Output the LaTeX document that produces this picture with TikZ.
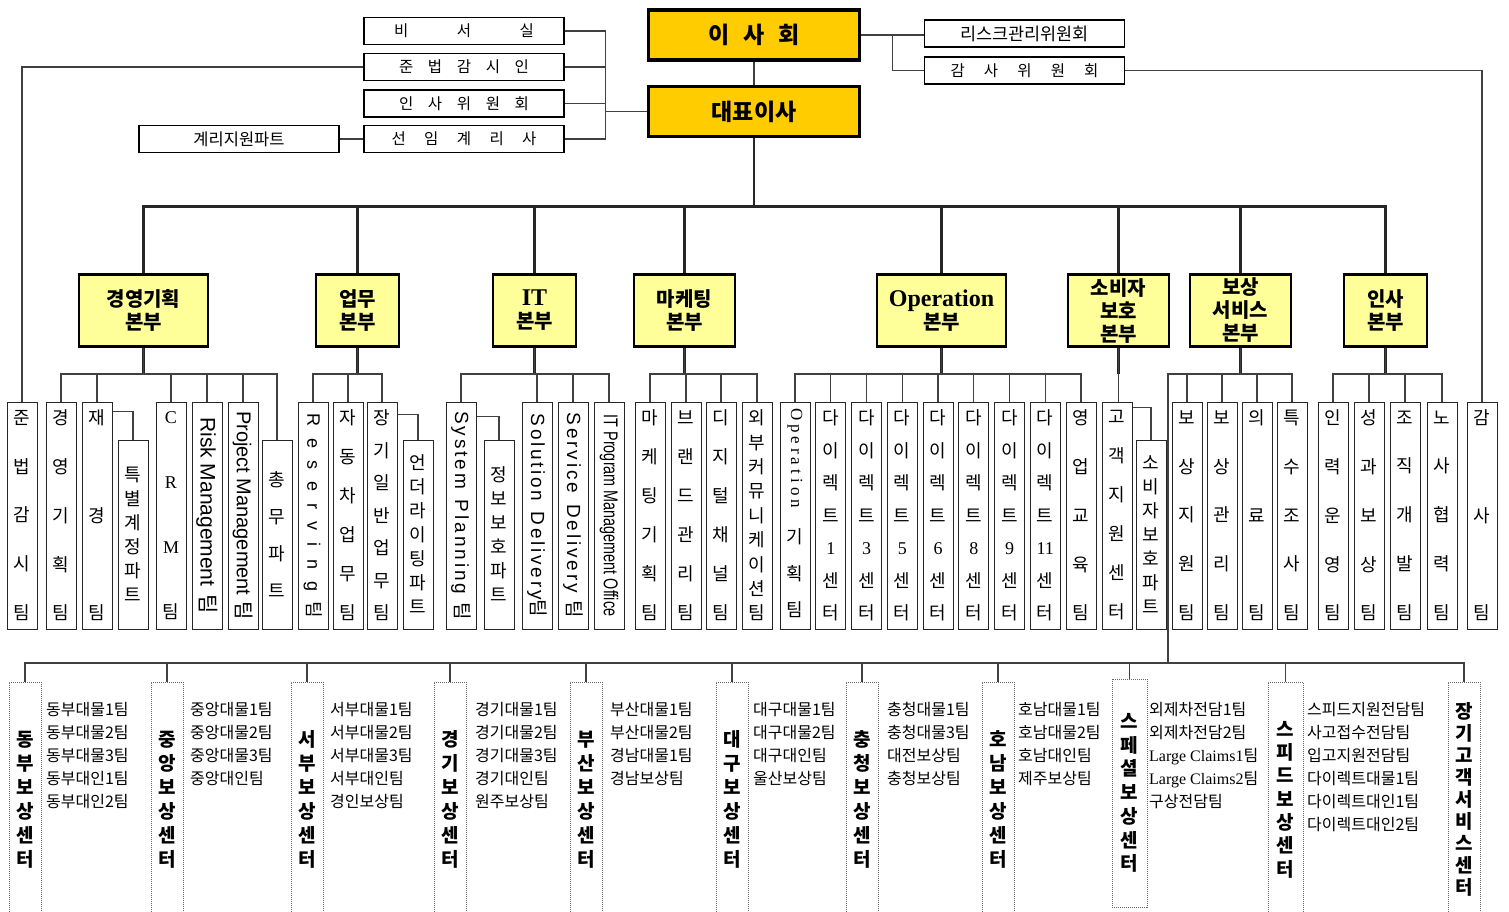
\documentclass[tikz,border=0pt]{standalone}
\usepackage{graphicx}
\usepackage{fontspec}
\setmainfont{Noto Sans CJK KR}
\newfontfamily\lat{Liberation Serif}
\newfontfamily\las{Liberation Sans}
\usepackage{tikz}
\definecolor{gold}{HTML}{FFCC00}
\definecolor{lemon}{HTML}{FFFF99}
\newcommand\spreadtxt[2]{\makebox[#1][s]{\spaceskip=0pt plus 1fil\relax #2}}

\begin{document}
\begin{tikzpicture}[x=1pt,y=-1pt,
  ln/.style={draw=black!75,line width=1.2pt},
  trunk/.style={draw=black!85,line width=2.4pt},
  head/.style={draw,line width=3.6pt,fill=gold,minimum width=211,minimum height=50,inner sep=0,font=\bfseries\fontsize{23}{23}\selectfont},
  sbox/.style={draw,line width=1.1pt,minimum width=200,minimum height=27,inner sep=0,font=\fontsize{15.5}{15.5}\selectfont},
  div/.style={draw,line width=2.8pt,fill=lemon,minimum height=72,inner sep=0,align=center,font=\bfseries\fontsize{20}{23}\selectfont},
  tbox/.style={draw=black!85,line width=1pt,minimum width=30,minimum height=227,inner sep=0,align=center},
  team/.style={tbox,font=\pgfmathsetmacro\tpitch{195/(#1-1)}\fontsize{18}{\tpitch}\selectfont},
  part/.style={tbox,minimum height=189,font=\fontsize{18}{#1}\selectfont},
  rtxt/.style={rotate=-90,inner sep=0,font=\fontsize{#1}{#1}\selectfont},
  ctr/.style={draw=black!60,line width=1pt,densely dotted,minimum width=32,minimum height=235,inner sep=0,align=center,font=\bfseries\fontsize{19}{#1}\selectfont},
  lst/.style={anchor=north west,inner sep=0,align=left,font=\fontsize{16}{23}\selectfont}]
\useasboundingbox (0,0) rectangle (1509,911);

\node[head] (ish) at (754,35) {\spreadtxt{92pt}{이 사 회}};
\node[head] (ceo) at (754,111.5) {대표이사};
\draw[ln] (ish) -- (ceo);

\foreach \nm/\y/\w/\tx in {s1/31/140/{비 서 실},s2/67/130/{준 법 감 시 인},%
  s3/103.5/130/{인 사 위 원 회},s4/139/145/{선 임 계 리 사}} {
  \node[sbox] (\nm) at (464,\y) {\spreadtxt{\w pt}{\tx}};
  \draw[ln] (ceo.west) -- ++(-41,0) |- (\nm.east);
}
\node[sbox,font=\fontsize{16.5}{16.5}\selectfont] (acta) at (239,139) {계리지원파트};
\draw[ln] (acta) -- (s4);

\node[sbox,font=\fontsize{17.5}{17.5}\selectfont] (rk) at (1024.5,33.5) {리스크관리위원회};
\node[sbox] (au) at (1024.5,70.5) {\spreadtxt{148pt}{감 사 위 원 회}};
\draw[ln] (ish.east) -- (ish.east -| rk.west);
\draw[ln] (ish.east) -- ++(31,0) |- (au.west);

\foreach \nm/\x/\w/\tx in {d1/143.5/129/{경영기획\\본부},d2/357.5/83/{업무\\본부},%
  d3/534.5/83/{{\lat\fontsize{24}{23}\selectfont IT}\\본부},d4/684.5/101/{마케팅\\본부},%
  d5/941.5/129/{{\lat\fontsize{24}{23}\selectfont Operation}\\본부},d6/1118.5/101/{소비자\\보호\\본부},%
  d7/1240.5/101/{보상\\서비스\\본부},d8/1385.5/83/{인사\\본부}} {
  \node[div,minimum width=\w] (\nm) at (\x,310.5) {\tx};
  \draw[trunk] (ceo.south) -- ++(0,68) -| (\nm.north);
  \draw[trunk] (\nm.south) -- ++(0,26);
}

\node[team=5] (a0) at (22,515.5) {준\\법\\감\\시\\팀};
\node[team=5] (a1) at (61,515.5) {경\\영\\기\\획\\팀};
\node[team=3] (a2) at (97,515.5) {재\\경\\팀};
\node[part=24] (a3) at (133,534.5) {특\\별\\계\\정\\파\\트};
\node[team=4] (a4) at (171,515.5) {{\lat C}\\{\lat R}\\{\lat M}\\팀};
\node[tbox] (a5) at (207,515.5) {};
\node[rtxt=21] (a5t) at (a5) {{\las Risk Management}\hspace{8pt}팀};
\node[tbox] (a6) at (243,515.5) {};
\node[rtxt=20] (a6t) at (a6) {{\las Project Management}\hspace{6pt}팀};
\node[part=36.7] (a7) at (277,534.5) {총\\무\\파\\트};
\foreach \m in {a1,a2,a4,a5,a6,a7} \draw[ln] (d1.south) -- ++(0,26) -| (\m.north);
\draw[ln] ([yshift=-10pt]a2.north east) -| (a3.north);
\draw[ln] (s2.west) -| (a0.north);

\node[tbox] (b1) at (313,515.5) {};
\node[rtxt=18] (b1t) at (b1) {{\las\spreadtxt{178pt}{R e s e r v i n g}}\hspace{10pt}팀};
\node[team=6] (b2) at (348,515.5) {자\\동\\차\\업\\무\\팀};
\node[team=7] (b3) at (382,515.5) {장\\기\\일\\반\\업\\무\\팀};
\node[part=24] (b4) at (418,534.5) {언\\더\\라\\이\\팅\\파\\트};
\foreach \m in {b1,b2,b3} \draw[ln] (d2.south) -- ++(0,26) -| (\m.north);
\draw[ln] ([yshift=-13pt]b3.north east) -| (b4.north);

\node[tbox] (c1) at (461,515.5) {};
\node[rtxt=19] (c1t) at (c1) {{\las\spreadtxt{183pt}{S y s t e m \hspace{5pt} P l a n n i n g}}\hspace{8pt}팀};
\node[part=24] (c2) at (499,534.5) {정\\보\\보\\호\\파\\트};
\node[tbox] (c3) at (537,515.5) {};
\node[rtxt=19] (c3t) at (c3) {{\las\spreadtxt{186pt}{S o l u t i o n \hspace{5pt} D e l i v e r y}}팀};
\node[tbox] (c4) at (573,515.5) {};
\node[rtxt=19] (c4t) at (c4) {{\las\spreadtxt{180pt}{S e r v i c e \hspace{5pt} D e l i v e r y}}\hspace{8pt}팀};
\node[tbox] (c5) at (609,515.5) {};
\node[rtxt=20] (c5t) at (c5) {\las\scalebox{0.72}[1]{IT Program Management Office}};
\foreach \m in {c1,c3,c4,c5} \draw[ln] (d3.south) -- ++(0,26) -| (\m.north);
\draw[ln] ([yshift=-15pt]c1.north east) -| (c2.north);

\node[team=6] (m1) at (650,515.5) {마\\케\\팅\\기\\획\\팀};
\node[team=6] (m2) at (686,515.5) {브\\랜\\드\\관\\리\\팀};
\node[team=6] (m3) at (721,515.5) {디\\지\\털\\채\\널\\팀};
\node[team=9] (m4) at (757,515.5) {외\\부\\커\\뮤\\니\\케\\이\\션\\팀};
\foreach \m in {m1,m2,m3,m4} \draw[ln] (d4.south) -- ++(0,26) -| (\m.north);

\node[tbox] (o0) at (795,515.5) {};
\node[rtxt=17] (o0a) at (795,458) {\lat\spreadtxt{100pt}{O p e r a t i o n}};
\node[inner sep=0,align=center,font=\fontsize{18}{36.5}\selectfont] (o0b) at (795,573.5) {기\\획\\팀};
\foreach \i/\k in {1/1,2/3,3/5,4/6,5/8,6/9,7/11}
  \node[team=7] (o\i) at ({795+35.75*\i},515.5) {다\\이\\렉\\트\\{\lat\k}\\센\\터};
\node[team=5] (o8) at (1081,515.5) {영\\업\\교\\육\\팀};
\foreach \i in {0,...,8} \draw[ln] (d5.south) -- ++(0,26) -| (o\i.north);

\node[team=6] (p1) at (1117,515.5) {고\\객\\지\\원\\센\\터};
\node[part=24] (p2) at (1151,534.5) {소\\비\\자\\보\\호\\파\\트};
\draw[ln] (d6.south) -- (d6.south |- p1.north);
\draw[ln] ([yshift=-6pt]p1.north east) -| (p2.north);

\node[team=5] (q1) at (1187,515.5) {보\\상\\지\\원\\팀};
\node[team=5] (q2) at (1222,515.5) {보\\상\\관\\리\\팀};
\node[team=3] (q3) at (1257,515.5) {의\\료\\팀};
\node[team=5] (q4) at (1292,515.5) {특\\수\\조\\사\\팀};
\foreach \m in {q1,q2,q3,q4} \draw[ln] (d7.south) -- ++(0,26) -| (\m.north);

\node[team=5] (h1) at (1333,515.5) {인\\력\\운\\영\\팀};
\node[team=5] (h2) at (1369,515.5) {성\\과\\보\\상\\팀};
\node[team=5] (h3) at (1405,515.5) {조\\직\\개\\발\\팀};
\node[team=5] (h4) at (1442,515.5) {노\\사\\협\\력\\팀};
\foreach \m in {h1,h2,h3,h4} \draw[ln] (d8.south) -- ++(0,26) -| (\m.north);

\node[team=3] (gs) at (1482,515.5) {감\\사\\팀};
\draw[ln] (au.east) -| (gs.north);

\coordinate (hub) at (1168,663);
\draw[ln] (d7.south) -- ++(0,26) -| (hub);
\foreach \nm/\x/\tx in {r1/25/{동\\부},r2/167/{중\\앙},r3/307/{서\\부},r4/450/{경\\기},%
  r5/586/{부\\산},r6/732/{대\\구},r7/862/{충\\청},r8/998/{호\\남}} {
  \node[ctr=24] (\nm) at (\x,799.5) {\tx\\보\\상\\센\\터};
  \draw[ln] (hub) -| (\nm.north);
}
\node[ctr=23.7,minimum width=35,minimum height=228] (r9) at (1129.5,793) {스\\페\\셜\\보\\상\\센\\터};
\node[ctr=23.3,minimum width=35] (r10) at (1285.5,799.5) {스\\피\\드\\보\\상\\센\\터};
\node[ctr=22] (r11) at (1464,799.5) {장\\기\\고\\객\\서\\비\\스\\센\\터};
\foreach \nm in {r9,r10,r11} \draw[ln] (hub) -| (\nm.north);

\node[lst] (l1) at (46,702) {동부대물1팀\\동부대물2팀\\동부대물3팀\\동부대인1팀\\동부대인2팀};
\node[lst] (l2) at (190,702) {중앙대물1팀\\중앙대물2팀\\중앙대물3팀\\중앙대인팀};
\node[lst] (l3) at (330,702) {서부대물1팀\\서부대물2팀\\서부대물3팀\\서부대인팀\\경인보상팀};
\node[lst] (l4) at (475,702) {경기대물1팀\\경기대물2팀\\경기대물3팀\\경기대인팀\\원주보상팀};
\node[lst] (l5) at (610,702) {부산대물1팀\\부산대물2팀\\경남대물1팀\\경남보상팀};
\node[lst] (l6) at (753,702) {대구대물1팀\\대구대물2팀\\대구대인팀\\울산보상팀};
\node[lst] (l7) at (887,702) {충청대물1팀\\충청대물3팀\\대전보상팀\\충청보상팀};
\node[lst] (l8) at (1018,702) {호남대물1팀\\호남대물2팀\\호남대인팀\\제주보상팀};
\node[lst] (l9) at (1149,702) {외제차전담1팀\\외제차전담2팀\\{\lat Large Claims1}팀\\{\lat Large Claims2}팀\\구상전담팀};
\node[lst] (l10) at (1307,702) {스피드지원전담팀\\사고접수전담팀\\입고지원전담팀\\다이렉트대물1팀\\다이렉트대인1팀\\다이렉트대인2팀};
\end{tikzpicture}
\end{document}
